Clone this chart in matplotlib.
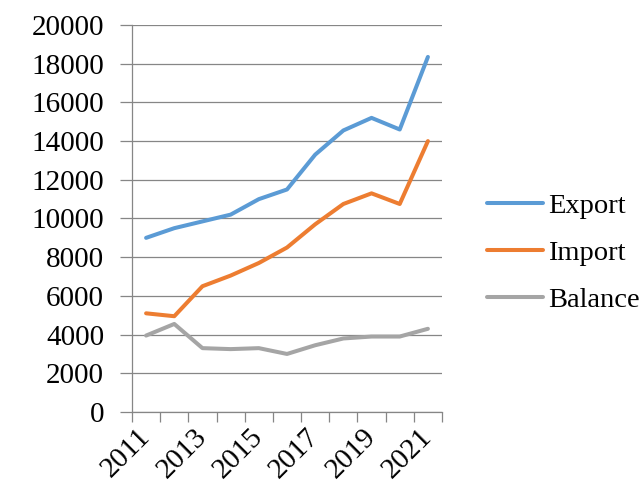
import matplotlib
matplotlib.use("Agg")
import matplotlib.pyplot as plt
import numpy as np

years = [2011, 2012, 2013, 2014, 2015, 2016, 2017, 2018, 2019, 2020, 2021]
export = [9000, 9500, 9850, 10200, 11000, 11500, 13300, 14550, 15200, 14600, 18350]
imports = [5100, 4950, 6500, 7050, 7700, 8500, 9700, 10750, 11300, 10750, 14000]
balance = [3950, 4550, 3300, 3250, 3300, 3000, 3450, 3800, 3900, 3900, 4300]
series_names = ["Export", "Import", "Balance"]
colors = ["#5B9BD5", "#ED7D31", "#A5A5A5"]

plt.rcParams["font.family"] = ["Liberation Serif", "DejaVu Serif"]
fs = 21
grid_c = "#868686"

fig = plt.figure(figsize=(6.42, 4.88), dpi=100)
ax = fig.add_axes([132 / 642, 1 - 412 / 488, 310 / 642, 387 / 488])

x = np.arange(len(years))
for vals, name, c in zip([export, imports, balance], series_names, colors):
    ax.plot(x, vals, color=c, lw=2.9, label=name, solid_capstyle="round", solid_joinstyle="round")

ax.set_xlim(-0.5, len(years) - 0.5)
ax.set_ylim(0, 20000)
ax.set_yticks(np.arange(0, 20001, 2000))
ax.set_yticklabels([str(v) for v in range(0, 20001, 2000)], fontsize=fs)
ax.yaxis.grid(True, color=grid_c, lw=0.9)
ax.set_axisbelow(True)

# category boundary tick marks, labels on every other category centre
ax.set_xticks(np.arange(-0.5, len(years), 1.0))
ax.set_xticklabels([])
ax.set_xticks(x, minor=True)
ax.set_xticklabels([str(y) if (y - years[0]) % 2 == 0 else "" for y in years],
                   minor=True, rotation=45, ha="right", va="center",
                   rotation_mode="anchor", fontsize=fs)
ax.tick_params(axis="x", which="major", length=7, color=grid_c, width=0.9)
ax.tick_params(axis="x", which="minor", length=0, pad=15)
ax.tick_params(axis="y", length=9, color=grid_c, width=0.9, pad=11)

for s in ["top", "right"]:
    ax.spines[s].set_visible(False)
for s in ["left", "bottom"]:
    ax.spines[s].set_color(grid_c)
    ax.spines[s].set_linewidth(0.9)

fig.legend(loc="center left", bbox_to_anchor=(487 / 642, 1 - 253 / 488),
           frameon=False, fontsize=20.5, handlelength=1.95, handletextpad=0.2,
           labelspacing=0.75, borderpad=0, borderaxespad=0)

fig.savefig("out.png", dpi=100)
